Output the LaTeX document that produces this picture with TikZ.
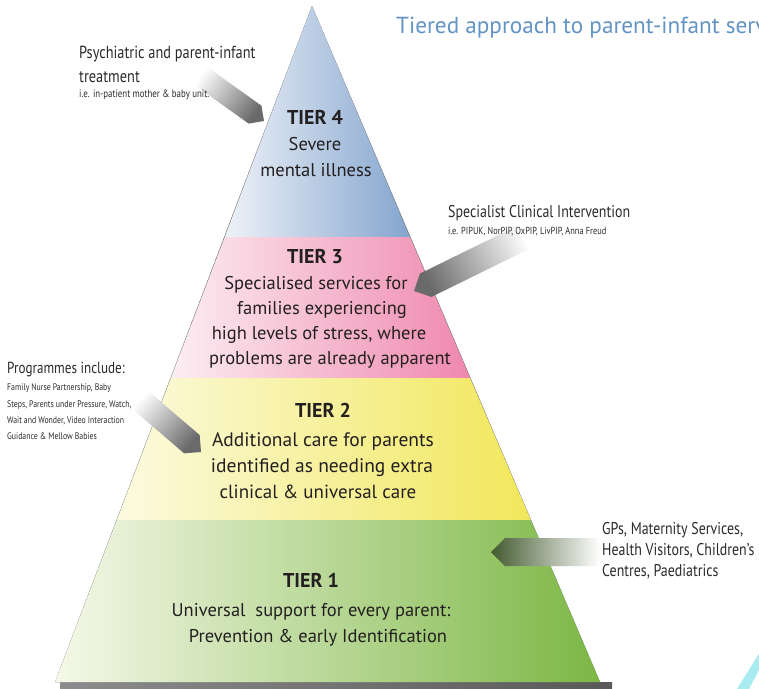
\documentclass[tikz,border=0pt]{standalone}
\usepackage{fontspec}
\setmainfont{PT Sans}
\newfontfamily\narrowfont[FakeStretch=0.82]{PT Sans}
\usetikzlibrary{calc}
\definecolor{tiertext}{HTML}{231F20}
\definecolor{sidetext}{HTML}{2A2A2A}
\definecolor{titleblue}{HTML}{6294C6}
\definecolor{blueL}{HTML}{EEF2F8}
\definecolor{blueM}{HTML}{B0C6E2}
\definecolor{blueR}{HTML}{84A5CE}
\definecolor{pinkL}{HTML}{FCEEF2}
\definecolor{pinkM}{HTML}{F6ADC6}
\definecolor{pinkR}{HTML}{EF88AE}
\definecolor{yelL}{HTML}{FCFAE0}
\definecolor{yelM}{HTML}{F6EF88}
\definecolor{yelR}{HTML}{F1E75A}
\definecolor{grnL}{HTML}{F5F8E8}
\definecolor{grnM}{HTML}{C2DB9A}
\definecolor{grnR}{HTML}{7CB745}
\definecolor{arrowgray}{HTML}{6A6A6A}
\definecolor{arrowgreen}{HTML}{435A30}
\definecolor{cyanstreak}{HTML}{A8ECF2}
\begin{document}
\begin{tikzpicture}[x=1pt,y=-1pt,
  tiertitle/.style={font=\bfseries\fontsize{20}{24}\selectfont, text=tiertext, anchor=base, inner sep=0},
  tierbody/.style={font=\fontsize{18.5}{24}\selectfont, text=tiertext, anchor=base, inner sep=0},
  sidehead/.style={font=\narrowfont\fontsize{17.5}{20}\selectfont, text=sidetext, anchor=base west, inner sep=0},
  sidemid/.style={font=\narrowfont\fontsize{17}{20}\selectfont, text=sidetext, anchor=base west, inner sep=0},
  sidesmall/.style={font=\narrowfont\fontsize{9.5}{12}\selectfont, text=sidetext, anchor=base west, inner sep=0},
  shadowlayer/.style={fill=black, opacity=0.05}]
\useasboundingbox (0,0) rectangle (759,688);
\begin{scope}
\clip (0,0) rectangle (759,688);
\fill[white] (0,0) rectangle (759,688);
% pyramid corners
\coordinate (apex) at (312,6);
\coordinate (L3) at (224.7,237); \coordinate (R3) at (409.9,237);
\coordinate (L2) at (170.9,378); \coordinate (R2) at (470.1,378);
\coordinate (L1) at (116.8,520); \coordinate (R1) at (530.8,520);
\coordinate (L0) at (55,682);    \coordinate (R0) at (600,682);
% soft shadow
\foreach \i in {1,...,16} {
  \path[shadowlayer, shift={(\i*1.15,\i*0.25)}] (apex) -- (R0) -- (L0) -- cycle;
}
\shade[left color=black!45, right color=black!65] (60,682) rectangle (612,689);
% tiers
\shade[left color=blueL, middle color=blueM, right color=blueR] (apex) -- (R3) -- (L3) -- cycle;
\shade[left color=pinkL, middle color=pinkM, right color=pinkR] (L3) -- (R3) -- (R2) -- (L2) -- cycle;
\shade[left color=yelL, middle color=yelM, right color=yelR] (L2) -- (R2) -- (R1) -- (L1) -- cycle;
\shade[left color=grnL, middle color=grnM, right color=grnR] (L1) -- (R1) -- (R0) -- (L0) -- cycle;
% cyan streak
\fill[cyanstreak] (737,689) -- (749,689) -- (760,668) -- (760,652) -- cycle;
% pointers
\coordinate (S4) at (198,74); \coordinate (E4) at (264,121);
\coordinate (M4) at ($(E4)!11pt!(S4)$);
\shade[left color=white, right color=arrowgray, shading angle=54.5]
  ($(S4)!11pt!90:(E4)$) -- ($(M4)!11pt!90:(E4)$) -- (E4) -- ($(M4)!11pt!-90:(E4)$) -- ($(S4)!11pt!-90:(E4)$) -- cycle;
\coordinate (S3) at (532,233); \coordinate (E3) at (414,291);
\coordinate (M3) at ($(E3)!13pt!(S3)$);
\shade[left color=white, right color=arrowgray, shading angle=296.2]
  ($(S3)!13pt!90:(E3)$) -- ($(M3)!13pt!90:(E3)$) -- (E3) -- ($(M3)!13pt!-90:(E3)$) -- ($(S3)!13pt!-90:(E3)$) -- cycle;
\coordinate (S2) at (138,398); \coordinate (E2) at (201,452);
\coordinate (M2) at ($(E2)!12pt!(S2)$);
\shade[left color=white, right color=arrowgray, shading angle=49.4]
  ($(S2)!12pt!90:(E2)$) -- ($(M2)!12pt!90:(E2)$) -- (E2) -- ($(M2)!12pt!-90:(E2)$) -- ($(S2)!12pt!-90:(E2)$) -- cycle;
\coordinate (S1) at (600,552); \coordinate (E1) at (491,552);
\coordinate (M1) at ($(E1)!14pt!(S1)$);
\shade[left color=white, right color=arrowgreen, shading angle=270]
  ($(S1)!14pt!90:(E1)$) -- ($(M1)!14pt!90:(E1)$) -- (E1) -- ($(M1)!14pt!-90:(E1)$) -- ($(S1)!14pt!-90:(E1)$) -- cycle;
% title (cut at the right edge, as in the reference)
\node[font=\fontsize{23.2}{26}\selectfont, text=titleblue, anchor=base west, inner sep=0] (title) at (396,33) {Tiered approach to parent-infant serv};
% tier texts
\node[tiertitle] (t4) at (315,124) {TIER 4};
\node[tierbody] (t4a) at (315,150) {Severe};
\node[tierbody] (t4b) at (316,176) {mental illness};
\node[tiertitle] (t3) at (315,263) {TIER 3};
\node[tierbody] (t3a) at (316,289) {Specialised services for};
\node[tierbody] (t3b) at (322,314) {families experiencing};
\node[tierbody] (t3c) at (319,339) {high levels of stress, where};
\node[tierbody] (t3d) at (330,364) {problems are already apparent};
\node[tiertitle] (t2) at (323,417) {TIER 2};
\node[tierbody, font=\fontsize{19.5}{24}\selectfont] (t2a) at (323,446) {Additional care for parents};
\node[tierbody, font=\fontsize{19.5}{24}\selectfont] (t2b) at (322,472) {identified as needing extra};
\node[tierbody, font=\fontsize{19}{24}\selectfont] (t2c) at (318,498) {clinical \& universal care};
\node[tiertitle] (t1) at (311,587) {TIER 1};
\node[tierbody] (t1a) at (311,616) {Universal\ \ support for every parent:};
\node[tierbody] (t1b) at (318,642) {Prevention \& early Identification};
% side labels
\node[sidehead] (p4a) at (79,58) {Psychiatric and parent-infant};
\node[sidehead] (p4b) at (79,82) {treatment};
\node[sidesmall, font=\narrowfont\fontsize{10.8}{12}\selectfont] (p4c) at (79,97) {i.e. in-patient mother \& baby unit.};
\node[sidemid] (p3a) at (448,217) {Specialist Clinical Intervention};
\node[sidesmall, font=\narrowfont\fontsize{10.2}{12}\selectfont] (p3b) at (448,234) {i.e. PIPUK, NorPIP, OxPIP, LivPIP, Anna Freud};
\node[sidehead, font=\narrowfont\fontsize{16}{20}\selectfont] (p2a) at (7,373) {Programmes include:};
\node[sidesmall] (p2b) at (7,390) {Family Nurse Partnership, Baby};
\node[sidesmall] (p2c) at (7,407) {Steps, Parents under Pressure, Watch,};
\node[sidesmall] (p2d) at (7,423) {Wait and Wonder, Video Interaction};
\node[sidesmall] (p2e) at (7,439) {Guidance \& Mellow Babies};
\node[sidemid] (p1a) at (602,534) {GPs, Maternity Services,};
\node[sidemid] (p1b) at (602,555) {Health Visitors, Children’s};
\node[sidemid] (p1c) at (602,576) {Centres, Paediatrics};
\end{scope}
\end{tikzpicture}
\end{document}
